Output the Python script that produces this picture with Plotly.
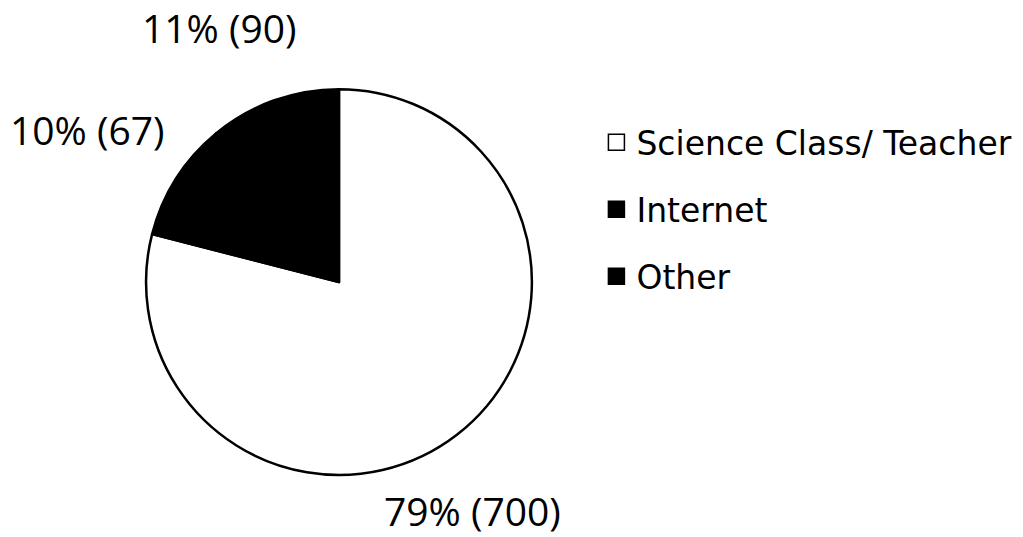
import plotly.graph_objects as go

# Sources of information (share of respondents, with counts)
categories = ["Science Class/ Teacher", "Internet", "Other"]
percent = [79, 10, 11]
counts = [700, 67, 90]
slice_colors = ["white", "black", "black"]

W, H = 1023, 537
LABEL_FONT = "Open Sans"
LEGEND_FONT = "DejaVu Sans"

fig = go.Figure()

fig.add_trace(go.Pie(
    labels=categories,
    values=percent,
    sort=False,
    direction="clockwise",
    rotation=0,
    marker=dict(colors=slice_colors, line=dict(color="black", width=2.5)),
    textinfo="none",
    hoverinfo="label+percent",
    showlegend=False,
    domain=dict(x=[0.1427, 0.52], y=[0.1155, 0.834]),
))

# Legend entries as square swatches, one group each so they can be spaced apart
for i, (name, col) in enumerate(zip(categories, slice_colors)):
    fig.add_trace(go.Scatter(
        x=[None], y=[None], mode="markers", name=name,
        legendgroup=f"g{i}",
        marker=dict(symbol="square", size=18, color=col,
                    line=dict(color="black", width=1.5)),
    ))

# Outside labels: "pct% (count)" for each slice
label_pos = {  # (x, y) in pixels from the top-left, text centre
    "Science Class/ Teacher": (472, 510),
    "Internet": (87, 130),
    "Other": (219, 28),
}
for name, p, c in zip(categories, percent, counts):
    px, py = label_pos[name]
    fig.add_annotation(
        x=px / W, y=1 - py / H, xref="paper", yref="paper",
        text=f"{p}% ({c})", showarrow=False,
        xanchor="center", yanchor="middle",
        font=dict(family=LABEL_FONT, size=39, color="black"),
    )

fig.update_layout(
    width=W, height=H,
    margin=dict(l=0, r=0, t=0, b=0),
    paper_bgcolor="white", plot_bgcolor="white",
    xaxis=dict(visible=False), yaxis=dict(visible=False),
    legend=dict(
        x=0.583, y=0.787, xanchor="left", yanchor="top",
        font=dict(family=LEGEND_FONT, size=33, color="black"),
        tracegroupgap=21, itemsizing="trace",
        bgcolor="rgba(0,0,0,0)",
    ),
)

fig.write_html("out.html")
